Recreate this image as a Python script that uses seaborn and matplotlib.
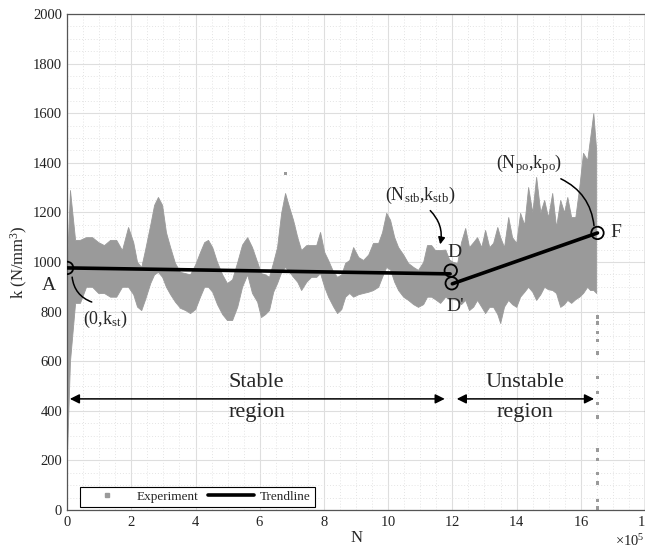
import numpy as np
import pandas as pd
import matplotlib
matplotlib.use("Agg")
import matplotlib.pyplot as plt
import seaborn as sns
from matplotlib.lines import Line2D
from matplotlib.ticker import MultipleLocator

# ---------------- data (N in units of 1e5 cycles, k in N/mm^3) ----------------
exp_N = [0.00, 0.09, 0.25, 0.40, 0.59, 0.78, 0.97, 1.15, 1.34, 1.53,
         1.71, 1.90, 2.06, 2.18, 2.31, 2.43, 2.59, 2.71, 2.83, 2.96,
         3.08, 3.21, 3.36, 3.52, 3.68, 3.83, 3.99, 4.14, 4.27, 4.39,
         4.52, 4.67, 4.83, 4.98, 5.14, 5.30, 5.45, 5.61, 5.76, 5.92,
         6.04, 6.17, 6.29, 6.42, 6.54, 6.67, 6.79, 6.92, 7.04, 7.17,
         7.29, 7.45, 7.60, 7.76, 7.88, 8.01, 8.13, 8.29, 8.41, 8.54,
         8.66, 8.79, 8.91, 9.07, 9.22, 9.38, 9.53, 9.69, 9.81, 9.94,
         10.06, 10.19, 10.31, 10.47, 10.62, 10.78, 10.93, 11.09, 11.21, 11.34,
         11.46, 11.62, 11.78, 11.90, 12.02, 12.15, 12.27, 12.40, 12.52, 12.65,
         12.77, 12.90, 13.02, 13.15, 13.27, 13.40, 13.49, 13.61, 13.74, 13.86,
         13.99, 14.11, 14.24, 14.36, 14.49, 14.61, 14.74, 14.86, 14.98, 15.11,
         15.23, 15.36, 15.48, 15.58, 15.70, 15.83, 15.95, 16.07, 16.20, 16.29,
         16.39, 16.48]
exp_lo = [240, 600, 835, 835, 900, 900, 875, 875, 860, 860,
          900, 900, 870, 820, 806, 850, 915, 950, 960, 940,
          900, 870, 840, 815, 806, 794, 810, 860, 900, 900,
          880, 830, 790, 766, 766, 820, 900, 950, 875, 840,
          778, 790, 806, 880, 915, 960, 980, 960, 940, 920,
          887, 920, 940, 940, 955, 900, 860, 820, 794, 810,
          860, 875, 860, 870, 875, 880, 887, 900, 940, 980,
          970, 920, 887, 860, 847, 830, 819, 830, 860, 860,
          850, 835, 860, 850, 850, 847, 830, 847, 806, 820,
          847, 820, 794, 819, 819, 790, 754, 820, 847, 830,
          819, 860, 880, 900, 880, 847, 870, 900, 890, 887,
          875, 819, 830, 847, 835, 850, 860, 875, 900, 887,
          887, 875]
exp_hi = [1000, 1290, 1089, 1089, 1100, 1100, 1080, 1068, 1089, 1089,
          1048, 1141, 1080, 1000, 980, 1050, 1150, 1230, 1262, 1230,
          1120, 1060, 996, 960, 955, 950, 990, 1040, 1080, 1089,
          1060, 1000, 950, 915, 930, 1000, 1070, 1100, 1060, 1000,
          955, 950, 940, 1000, 1060, 1200, 1278, 1220, 1169, 1100,
          1048, 1068, 1068, 1068, 1121, 1040, 1008, 960, 940, 950,
          996, 1008, 1060, 1020, 1008, 1030, 1077, 1077, 1120, 1198,
          1170, 1100, 1060, 1030, 996, 980, 968, 1000, 1068, 1068,
          1048, 1048, 1050, 1010, 1000, 996, 1080, 1137, 1060, 1080,
          1100, 1060, 1129, 1060, 1077, 1141, 1100, 1060, 1181, 1100,
          1077, 1198, 1150, 1302, 1200, 1343, 1200, 1250, 1180, 1278,
          1141, 1250, 1200, 1262, 1181, 1181, 1300, 1440, 1411, 1500,
          1600, 1451]
# isolated experiment points (final drop and outliers)
dot_N = [16.52] * 15 + [6.80]
dot_k = [778, 754, 714, 685, 633, 536, 472, 431, 375, 242, 202, 149, 109, 40, 8, 1355]

trend1_N = [0.0, 11.93]
trend1_k = [976, 952]
trend2_N = [12.0, 16.52]
trend2_k = [912, 1117]
pt_labels = ["A", "D", "D'", "F"]
pt_N = [0.0, 11.95, 11.98, 16.52]
pt_k = [976, 965, 914, 1117]

x_ticks = [0, 2, 4, 6, 8, 10, 12, 14, 16, 18]
y_ticks = [0, 200, 400, 600, 800, 1000, 1200, 1400, 1600, 1800, 2000]

SCALE = 1e5
# ------------------------------------------------------------------------------

sns.set_style("white")
plt.rcParams["font.family"] = ["Liberation Serif", "DejaVu Serif"]
plt.rcParams["mathtext.fontset"] = "custom"
plt.rcParams["mathtext.rm"] = "Liberation Serif"
plt.rcParams["mathtext.it"] = "Liberation Serif:italic"

fig = plt.figure(figsize=(6.45, 5.5), dpi=100)
ax = fig.add_axes([0.104, 0.0727, 0.896, 0.902])

GRAY = "#9a9a9a"
N_arr = np.array(exp_N) * SCALE

ax.fill_between(N_arr, exp_lo, exp_hi, color=GRAY, linewidth=0.6,
                edgecolor=GRAY, zorder=2)

dot_df = pd.DataFrame({"N": np.array(dot_N) * SCALE, "k": dot_k})
sns.scatterplot(data=dot_df, x="N", y="k", marker="s", s=5, color=GRAY,
                edgecolor="none", ax=ax, zorder=2, legend=False)

t1 = pd.DataFrame({"N": np.array(trend1_N) * SCALE, "k": trend1_k})
t2 = pd.DataFrame({"N": np.array(trend2_N) * SCALE, "k": trend2_k})
sns.lineplot(data=t1, x="N", y="k", color="black", linewidth=2.6, ax=ax, zorder=4)
sns.lineplot(data=t2, x="N", y="k", color="black", linewidth=2.6, ax=ax, zorder=4)

pts = pd.DataFrame({"N": np.array(pt_N) * SCALE, "k": pt_k})
sns.scatterplot(data=pts, x="N", y="k", marker="o", s=80, facecolor="none",
                edgecolor="black", linewidth=1.3, ax=ax, zorder=5, legend=False)

ax.set_xlim(0, 18 * SCALE)
ax.set_ylim(0, 2000)
ax.set_xticks([v * SCALE for v in x_ticks])
ax.set_yticks(y_ticks)
ax.xaxis.set_minor_locator(MultipleLocator(0.5 * SCALE))
ax.yaxis.set_minor_locator(MultipleLocator(50))
ax.ticklabel_format(axis="x", style="sci", scilimits=(5, 5), useMathText=True)
ax.grid(which="major", color="#dedede", linewidth=0.8, linestyle="-", zorder=0)
ax.grid(which="minor", color="#e4e4e4", linewidth=0.7, linestyle=(0, (1, 2)), zorder=0)
ax.set_axisbelow(True)
ax.tick_params(which="major", direction="in", length=5, width=0.8, color="#444444",
               labelsize=10.5, labelcolor="#222222", top=False, right=False)
ax.tick_params(which="minor", length=0)
for s in ax.spines.values():
    s.set_color("#555555")
    s.set_linewidth(0.9)
ax.xaxis.get_offset_text().set_fontsize(10.5)

ax.set_xlabel("N", fontsize=12, labelpad=1)
ax.set_ylabel("k (N/mm$^3$)", fontsize=12, labelpad=2)

# point labels
lab_pos = {"A": (-0.57, 905), "D": (12.08, 1040), "D'": (12.1, 820), "F": (17.1, 1117)}
for lab in pt_labels:
    x, y = lab_pos[lab]
    ax.text(x * SCALE, y, lab, fontsize=14, ha="center", va="center", zorder=6)

ax.text(1.2 * SCALE, 770, "(0,k$_{\\rm st}$)", fontsize=13, ha="center", va="center")
ax.text(11.0 * SCALE, 1270, "(N$_{\\rm stb}$,k$_{\\rm stb}$)", fontsize=13, ha="center", va="center")
ax.text(14.4 * SCALE, 1395, "(N$_{\\rm po}$,k$_{\\rm po}$)", fontsize=13, ha="center", va="center")

ax.annotate("", xy=(0.85 * SCALE, 835), xytext=(0.15 * SCALE, 950),
            arrowprops=dict(arrowstyle="-", color="black", lw=1.1,
                            connectionstyle="arc3,rad=0.35"))
ax.annotate("", xy=(11.6 * SCALE, 1060), xytext=(11.25 * SCALE, 1215),
            arrowprops=dict(arrowstyle="-|>", color="black", lw=1.1, mutation_scale=10,
                            connectionstyle="arc3,rad=-0.3"))
ax.annotate("", xy=(16.42 * SCALE, 1135), xytext=(15.3 * SCALE, 1340),
            arrowprops=dict(arrowstyle="-", color="black", lw=1.1,
                            connectionstyle="arc3,rad=-0.3"))

# region arrows
ax.annotate("", xy=(0.0, 448), xytext=(11.85 * SCALE, 448),
            arrowprops=dict(arrowstyle="<|-|>", color="black", lw=1.1, mutation_scale=14))
ax.annotate("", xy=(12.05 * SCALE, 448), xytext=(16.5 * SCALE, 448),
            arrowprops=dict(arrowstyle="<|-|>", color="black", lw=1.1, mutation_scale=14))
ax.text(5.9 * SCALE, 515, "Stable", fontsize=16, ha="center", va="center")
ax.text(5.9 * SCALE, 393, "region", fontsize=16, ha="center", va="center")
ax.text(14.25 * SCALE, 515, "Unstable", fontsize=16, ha="center", va="center")
ax.text(14.25 * SCALE, 393, "region", fontsize=16, ha="center", va="center")

handles = [Line2D([], [], marker="s", markersize=2.5, color=GRAY, linestyle="none"),
           Line2D([], [], color="black", linewidth=2.6)]
leg = ax.legend(handles, ["Experiment", "Trendline"], loc="lower left",
                bbox_to_anchor=(0.0225, 0.006), borderaxespad=0.0, ncol=2,
                fontsize=9.5, frameon=True, fancybox=False, edgecolor="black",
                framealpha=1, borderpad=0.3, handlelength=3.5,
                columnspacing=0.75, handletextpad=0.45)
leg.get_frame().set_linewidth(0.8)

fig.savefig("out.png", dpi=100)
